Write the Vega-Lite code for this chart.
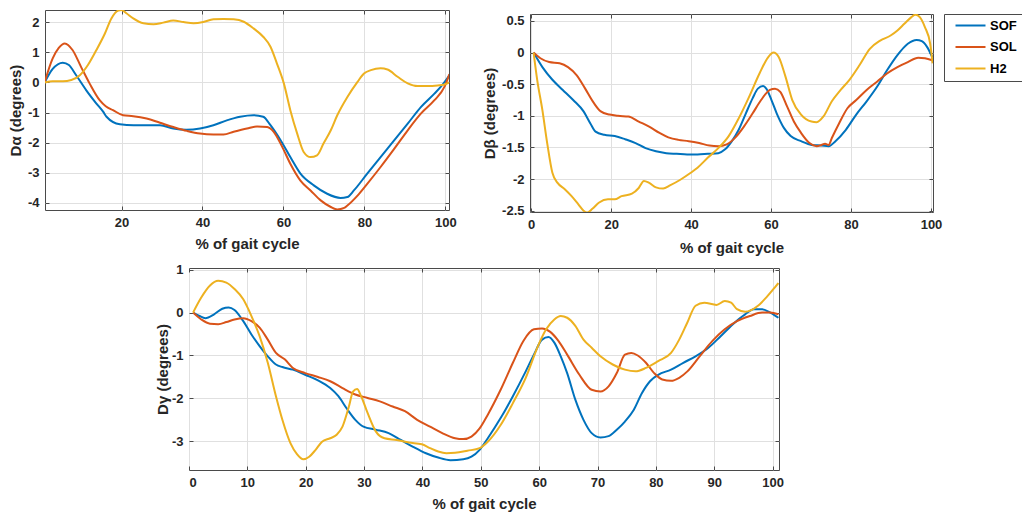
{
"$schema":"https://vega.github.io/schema/vega-lite/v6.json",
"autosize":{"type":"none"},
"padding":{"left":45,"top":10,"right":977,"bottom":507},
"background":"white",
"config":{
 "font":"Liberation Sans",
 "view":{"stroke":"#4a4a4a","strokeWidth":1},
 "axis":{"domain":false,"grid":true,"gridColor":"#e0e0e0","gridWidth":1,"tickColor":"#4a4a4a","tickSize":-4,"labelFont":"Liberation Sans","labelFontWeight":"bold","labelFontSize":13,"labelColor":"#262626","labelPadding":10,"titleFont":"Liberation Sans","titleFontWeight":"bold","titleFontSize":15,"titleColor":"#262626"},
 "line":{"strokeWidth":2,"interpolate":"monotone"}
},
"datasets":{
"p1":[
{"s":"SOF","x":1,"y":0},{"s":"SOF","x":3,"y":0.45},{"s":"SOF","x":5.5,"y":0.66},{"s":"SOF","x":7,"y":0.58},{"s":"SOF","x":8.8,"y":0.24},{"s":"SOF","x":11.3,"y":-0.26},{"s":"SOF","x":13.8,"y":-0.7},{"s":"SOF","x":15.5,"y":-0.98},{"s":"SOF","x":16.3,"y":-1.14},{"s":"SOF","x":19.6,"y":-1.39},{"s":"SOF","x":23,"y":-1.42},{"s":"SOF","x":26.2,"y":-1.42},{"s":"SOF","x":29.5,"y":-1.42},{"s":"SOF","x":32.8,"y":-1.53},{"s":"SOF","x":36,"y":-1.57},{"s":"SOF","x":39.4,"y":-1.53},{"s":"SOF","x":42.7,"y":-1.42},{"s":"SOF","x":46,"y":-1.26},{"s":"SOF","x":49.3,"y":-1.14},{"s":"SOF","x":52.6,"y":-1.09},{"s":"SOF","x":55,"y":-1.14},{"s":"SOF","x":56.8,"y":-1.42},{"s":"SOF","x":59.3,"y":-1.92},{"s":"SOF","x":61.7,"y":-2.48},{"s":"SOF","x":64.2,"y":-3.03},{"s":"SOF","x":67.5,"y":-3.42},{"s":"SOF","x":70.8,"y":-3.7},{"s":"SOF","x":74.1,"y":-3.84},{"s":"SOF","x":75.8,"y":-3.81},{"s":"SOF","x":77.4,"y":-3.59},{"s":"SOF","x":80.7,"y":-3.03},{"s":"SOF","x":84,"y":-2.48},{"s":"SOF","x":87.4,"y":-1.92},{"s":"SOF","x":90.7,"y":-1.37},{"s":"SOF","x":94,"y":-0.81},{"s":"SOF","x":97.3,"y":-0.37},{"s":"SOF","x":98.9,"y":-0.14},{"s":"SOF","x":101,"y":0.24},
{"s":"SOL","x":1,"y":0},{"s":"SOL","x":3,"y":0.8},{"s":"SOL","x":4.5,"y":1.15},{"s":"SOL","x":6,"y":1.3},{"s":"SOL","x":7.9,"y":1.08},{"s":"SOL","x":10,"y":0.52},{"s":"SOL","x":12.1,"y":-0.03},{"s":"SOL","x":14.6,"y":-0.59},{"s":"SOL","x":16.1,"y":-0.79},{"s":"SOL","x":17.9,"y":-0.92},{"s":"SOL","x":20.4,"y":-1.09},{"s":"SOL","x":22.9,"y":-1.12},{"s":"SOL","x":26.2,"y":-1.2},{"s":"SOL","x":29.5,"y":-1.34},{"s":"SOL","x":32.8,"y":-1.48},{"s":"SOL","x":36.2,"y":-1.61},{"s":"SOL","x":39.4,"y":-1.7},{"s":"SOL","x":42.7,"y":-1.73},{"s":"SOL","x":45.2,"y":-1.73},{"s":"SOL","x":47.7,"y":-1.64},{"s":"SOL","x":51,"y":-1.53},{"s":"SOL","x":53.5,"y":-1.46},{"s":"SOL","x":56,"y":-1.48},{"s":"SOL","x":57.6,"y":-1.64},{"s":"SOL","x":59.7,"y":-2.14},{"s":"SOL","x":61.7,"y":-2.7},{"s":"SOL","x":64.2,"y":-3.26},{"s":"SOL","x":66.7,"y":-3.59},{"s":"SOL","x":69.2,"y":-3.92},{"s":"SOL","x":71.7,"y":-4.14},{"s":"SOL","x":73.3,"y":-4.22},{"s":"SOL","x":75,"y":-4.17},{"s":"SOL","x":75.8,"y":-4.09},{"s":"SOL","x":78.3,"y":-3.76},{"s":"SOL","x":80.7,"y":-3.37},{"s":"SOL","x":84,"y":-2.81},{"s":"SOL","x":87.4,"y":-2.2},{"s":"SOL","x":90.7,"y":-1.59},{"s":"SOL","x":94,"y":-1.03},{"s":"SOL","x":97.3,"y":-0.59},{"s":"SOL","x":99.8,"y":-0.14},{"s":"SOL","x":101,"y":0.28},
{"s":"H2","x":1,"y":0},{"s":"H2","x":3,"y":0.04},{"s":"H2","x":5.5,"y":0.04},{"s":"H2","x":7.6,"y":0.08},{"s":"H2","x":9.7,"y":0.24},{"s":"H2","x":11.7,"y":0.58},{"s":"H2","x":13.8,"y":1.08},{"s":"H2","x":15.9,"y":1.63},{"s":"H2","x":17.5,"y":2.13},{"s":"H2","x":19.2,"y":2.39},{"s":"H2","x":20,"y":2.41},{"s":"H2","x":21.2,"y":2.3},{"s":"H2","x":22.9,"y":2.13},{"s":"H2","x":25.4,"y":1.97},{"s":"H2","x":27.9,"y":1.94},{"s":"H2","x":30.3,"y":1.99},{"s":"H2","x":32.8,"y":2.06},{"s":"H2","x":35.3,"y":2.01},{"s":"H2","x":37.8,"y":1.97},{"s":"H2","x":40.2,"y":2.01},{"s":"H2","x":42.7,"y":2.1},{"s":"H2","x":45.2,"y":2.11},{"s":"H2","x":47.7,"y":2.1},{"s":"H2","x":50.2,"y":2.02},{"s":"H2","x":52.6,"y":1.8},{"s":"H2","x":55,"y":1.52},{"s":"H2","x":56.8,"y":1.19},{"s":"H2","x":58.4,"y":0.63},{"s":"H2","x":60.1,"y":-0.03},{"s":"H2","x":61.7,"y":-0.92},{"s":"H2","x":63.4,"y":-1.7},{"s":"H2","x":65,"y":-2.31},{"s":"H2","x":66.7,"y":-2.48},{"s":"H2","x":68.3,"y":-2.42},{"s":"H2","x":69.9,"y":-2.03},{"s":"H2","x":71.7,"y":-1.59},{"s":"H2","x":73.3,"y":-1.09},{"s":"H2","x":75.8,"y":-0.48},{"s":"H2","x":78.3,"y":0.02},{"s":"H2","x":79.9,"y":0.3},{"s":"H2","x":81.6,"y":0.41},{"s":"H2","x":84,"y":0.47},{"s":"H2","x":85.7,"y":0.43},{"s":"H2","x":88.2,"y":0.19},{"s":"H2","x":90.7,"y":-0.03},{"s":"H2","x":93.1,"y":-0.12},{"s":"H2","x":95.6,"y":-0.12},{"s":"H2","x":98.1,"y":-0.1},{"s":"H2","x":99.8,"y":-0.07},{"s":"H2","x":101,"y":0}
],
"p2":[
{"s":"SOF","x":0.6,"y":0},{"s":"SOF","x":2.8,"y":-0.23},{"s":"SOF","x":5.3,"y":-0.43},{"s":"SOF","x":7.9,"y":-0.59},{"s":"SOF","x":10.5,"y":-0.75},{"s":"SOF","x":13.1,"y":-0.93},{"s":"SOF","x":14.8,"y":-1.12},{"s":"SOF","x":16.1,"y":-1.25},{"s":"SOF","x":18.3,"y":-1.3},{"s":"SOF","x":20.9,"y":-1.32},{"s":"SOF","x":23.5,"y":-1.37},{"s":"SOF","x":26.1,"y":-1.43},{"s":"SOF","x":28.6,"y":-1.51},{"s":"SOF","x":31.2,"y":-1.56},{"s":"SOF","x":33.8,"y":-1.59},{"s":"SOF","x":36.4,"y":-1.6},{"s":"SOF","x":39,"y":-1.61},{"s":"SOF","x":41.6,"y":-1.61},{"s":"SOF","x":44.2,"y":-1.6},{"s":"SOF","x":46.8,"y":-1.59},{"s":"SOF","x":48.5,"y":-1.53},{"s":"SOF","x":50.2,"y":-1.4},{"s":"SOF","x":51.9,"y":-1.22},{"s":"SOF","x":53.7,"y":-0.96},{"s":"SOF","x":55.4,"y":-0.72},{"s":"SOF","x":56.7,"y":-0.57},{"s":"SOF","x":58,"y":-0.53},{"s":"SOF","x":58.8,"y":-0.57},{"s":"SOF","x":60.1,"y":-0.75},{"s":"SOF","x":61.4,"y":-0.96},{"s":"SOF","x":63.2,"y":-1.19},{"s":"SOF","x":64.9,"y":-1.32},{"s":"SOF","x":67.5,"y":-1.4},{"s":"SOF","x":70.1,"y":-1.46},{"s":"SOF","x":72.6,"y":-1.47},{"s":"SOF","x":74.4,"y":-1.48},{"s":"SOF","x":76.1,"y":-1.4},{"s":"SOF","x":78.7,"y":-1.22},{"s":"SOF","x":81.3,"y":-0.98},{"s":"SOF","x":83.9,"y":-0.77},{"s":"SOF","x":86.5,"y":-0.54},{"s":"SOF","x":89,"y":-0.28},{"s":"SOF","x":91.6,"y":-0.04},{"s":"SOF","x":94.2,"y":0.14},{"s":"SOF","x":96.4,"y":0.2},{"s":"SOF","x":97.7,"y":0.18},{"s":"SOF","x":99,"y":0.09},{"s":"SOF","x":100.3,"y":-0.07},
{"s":"SOL","x":0.6,"y":0},{"s":"SOL","x":2.3,"y":-0.09},{"s":"SOL","x":4.5,"y":-0.15},{"s":"SOL","x":7.1,"y":-0.17},{"s":"SOL","x":9.2,"y":-0.23},{"s":"SOL","x":11.4,"y":-0.36},{"s":"SOL","x":13.5,"y":-0.57},{"s":"SOL","x":15.7,"y":-0.8},{"s":"SOL","x":17.4,"y":-0.93},{"s":"SOL","x":19.6,"y":-0.98},{"s":"SOL","x":21.7,"y":-1.0},{"s":"SOL","x":24.3,"y":-1.01},{"s":"SOL","x":26.9,"y":-1.09},{"s":"SOL","x":29.5,"y":-1.17},{"s":"SOL","x":32.1,"y":-1.27},{"s":"SOL","x":34.3,"y":-1.34},{"s":"SOL","x":36.8,"y":-1.38},{"s":"SOL","x":39.4,"y":-1.4},{"s":"SOL","x":42,"y":-1.43},{"s":"SOL","x":44.6,"y":-1.47},{"s":"SOL","x":46.8,"y":-1.48},{"s":"SOL","x":48.9,"y":-1.45},{"s":"SOL","x":51.1,"y":-1.34},{"s":"SOL","x":53.2,"y":-1.17},{"s":"SOL","x":55.4,"y":-0.96},{"s":"SOL","x":57.5,"y":-0.75},{"s":"SOL","x":59.7,"y":-0.59},{"s":"SOL","x":61,"y":-0.57},{"s":"SOL","x":62.3,"y":-0.62},{"s":"SOL","x":64,"y":-0.85},{"s":"SOL","x":65.7,"y":-1.09},{"s":"SOL","x":67.5,"y":-1.27},{"s":"SOL","x":69.6,"y":-1.43},{"s":"SOL","x":71.4,"y":-1.48},{"s":"SOL","x":72.6,"y":-1.46},{"s":"SOL","x":73.5,"y":-1.44},{"s":"SOL","x":74.4,"y":-1.46},{"s":"SOL","x":75.2,"y":-1.35},{"s":"SOL","x":77,"y":-1.12},{"s":"SOL","x":79.1,"y":-0.88},{"s":"SOL","x":81.3,"y":-0.75},{"s":"SOL","x":83.9,"y":-0.59},{"s":"SOL","x":86.5,"y":-0.46},{"s":"SOL","x":89,"y":-0.33},{"s":"SOL","x":91.6,"y":-0.23},{"s":"SOL","x":94.2,"y":-0.15},{"s":"SOL","x":96.8,"y":-0.08},{"s":"SOL","x":98.5,"y":-0.09},{"s":"SOL","x":100.3,"y":-0.12},
{"s":"H2","x":0.6,"y":0},{"s":"H2","x":1.5,"y":-0.43},{"s":"H2","x":2.8,"y":-0.91},{"s":"H2","x":4,"y":-1.43},{"s":"H2","x":5.3,"y":-1.9},{"s":"H2","x":6.6,"y":-2.06},{"s":"H2","x":8.4,"y":-2.16},{"s":"H2","x":10.1,"y":-2.27},{"s":"H2","x":11.8,"y":-2.4},{"s":"H2","x":13.1,"y":-2.5},{"s":"H2","x":14,"y":-2.53},{"s":"H2","x":15.3,"y":-2.47},{"s":"H2","x":17,"y":-2.37},{"s":"H2","x":19.2,"y":-2.32},{"s":"H2","x":20.9,"y":-2.32},{"s":"H2","x":22.6,"y":-2.27},{"s":"H2","x":25.2,"y":-2.23},{"s":"H2","x":26.9,"y":-2.14},{"s":"H2","x":28.2,"y":-2.03},{"s":"H2","x":29.5,"y":-2.06},{"s":"H2","x":31.2,"y":-2.13},{"s":"H2","x":33,"y":-2.15},{"s":"H2","x":34.7,"y":-2.1},{"s":"H2","x":37.3,"y":-2.01},{"s":"H2","x":39.9,"y":-1.9},{"s":"H2","x":41.6,"y":-1.82},{"s":"H2","x":44.2,"y":-1.66},{"s":"H2","x":46.8,"y":-1.51},{"s":"H2","x":49.4,"y":-1.32},{"s":"H2","x":51.9,"y":-1.04},{"s":"H2","x":54.5,"y":-0.7},{"s":"H2","x":57.1,"y":-0.33},{"s":"H2","x":59.3,"y":-0.07},{"s":"H2","x":60.6,"y":0},{"s":"H2","x":61.9,"y":-0.07},{"s":"H2","x":63.6,"y":-0.38},{"s":"H2","x":65.3,"y":-0.75},{"s":"H2","x":67.5,"y":-0.98},{"s":"H2","x":70.1,"y":-1.09},{"s":"H2","x":71.4,"y":-1.1},{"s":"H2","x":73.1,"y":-1.01},{"s":"H2","x":75.2,"y":-0.77},{"s":"H2","x":77.4,"y":-0.59},{"s":"H2","x":79.6,"y":-0.43},{"s":"H2","x":82.1,"y":-0.2},{"s":"H2","x":84.7,"y":0.06},{"s":"H2","x":87.3,"y":0.19},{"s":"H2","x":89.9,"y":0.27},{"s":"H2","x":91.6,"y":0.35},{"s":"H2","x":93.4,"y":0.46},{"s":"H2","x":95.1,"y":0.56},{"s":"H2","x":96.1,"y":0.6},{"s":"H2","x":97.2,"y":0.56},{"s":"H2","x":98.5,"y":0.4},{"s":"H2","x":99.8,"y":0.14},{"s":"H2","x":100.4,"y":-0.17}
],
"p3":[
{"s":"SOF","x":0.7,"y":0},{"s":"SOF","x":1.8,"y":-0.08},{"s":"SOF","x":2.8,"y":-0.13},{"s":"SOF","x":4.3,"y":-0.04},{"s":"SOF","x":5.7,"y":0.09},{"s":"SOF","x":6.8,"y":0.12},{"s":"SOF","x":7.8,"y":0.06},{"s":"SOF","x":9.3,"y":-0.2},{"s":"SOF","x":10.7,"y":-0.51},{"s":"SOF","x":12.1,"y":-0.78},{"s":"SOF","x":13.5,"y":-1.02},{"s":"SOF","x":14.9,"y":-1.21},{"s":"SOF","x":16,"y":-1.27},{"s":"SOF","x":17.8,"y":-1.33},{"s":"SOF","x":19.9,"y":-1.45},{"s":"SOF","x":22.1,"y":-1.58},{"s":"SOF","x":24.2,"y":-1.76},{"s":"SOF","x":25.6,"y":-1.95},{"s":"SOF","x":27,"y":-2.23},{"s":"SOF","x":28.5,"y":-2.5},{"s":"SOF","x":29.9,"y":-2.66},{"s":"SOF","x":32,"y":-2.73},{"s":"SOF","x":34.2,"y":-2.81},{"s":"SOF","x":36.3,"y":-2.97},{"s":"SOF","x":38.4,"y":-3.13},{"s":"SOF","x":40.6,"y":-3.28},{"s":"SOF","x":42.7,"y":-3.38},{"s":"SOF","x":44.8,"y":-3.44},{"s":"SOF","x":47,"y":-3.42},{"s":"SOF","x":48.4,"y":-3.36},{"s":"SOF","x":49.8,"y":-3.2},{"s":"SOF","x":51.2,"y":-2.93},{"s":"SOF","x":53.4,"y":-2.46},{"s":"SOF","x":55.5,"y":-1.95},{"s":"SOF","x":57.7,"y":-1.37},{"s":"SOF","x":59.1,"y":-0.98},{"s":"SOF","x":60.5,"y":-0.63},{"s":"SOF","x":61.6,"y":-0.57},{"s":"SOF","x":62.6,"y":-0.7},{"s":"SOF","x":63.7,"y":-1.02},{"s":"SOF","x":64.8,"y":-1.41},{"s":"SOF","x":66.2,"y":-2.03},{"s":"SOF","x":67.6,"y":-2.5},{"s":"SOF","x":69,"y":-2.81},{"s":"SOF","x":70.5,"y":-2.91},{"s":"SOF","x":71.9,"y":-2.88},{"s":"SOF","x":73.3,"y":-2.73},{"s":"SOF","x":74.7,"y":-2.54},{"s":"SOF","x":76.2,"y":-2.27},{"s":"SOF","x":77.6,"y":-1.88},{"s":"SOF","x":79,"y":-1.6},{"s":"SOF","x":80.4,"y":-1.45},{"s":"SOF","x":82.6,"y":-1.33},{"s":"SOF","x":84.7,"y":-1.17},{"s":"SOF","x":86.8,"y":-1.02},{"s":"SOF","x":89,"y":-0.82},{"s":"SOF","x":91.1,"y":-0.55},{"s":"SOF","x":93.2,"y":-0.27},{"s":"SOF","x":95.3,"y":-0.04},{"s":"SOF","x":96.8,"y":0.08},{"s":"SOF","x":98.2,"y":0.08},{"s":"SOF","x":99.6,"y":0},{"s":"SOF","x":101,"y":-0.12},
{"s":"SOL","x":0.7,"y":0},{"s":"SOL","x":2.1,"y":-0.16},{"s":"SOL","x":3.6,"y":-0.26},{"s":"SOL","x":5,"y":-0.27},{"s":"SOL","x":6.4,"y":-0.22},{"s":"SOL","x":7.8,"y":-0.16},{"s":"SOL","x":9.3,"y":-0.13},{"s":"SOL","x":10.7,"y":-0.2},{"s":"SOL","x":12.1,"y":-0.35},{"s":"SOL","x":13.5,"y":-0.63},{"s":"SOL","x":14.9,"y":-0.94},{"s":"SOL","x":16.4,"y":-1.09},{"s":"SOL","x":17.8,"y":-1.29},{"s":"SOL","x":19.9,"y":-1.41},{"s":"SOL","x":22.1,"y":-1.5},{"s":"SOL","x":24.2,"y":-1.6},{"s":"SOL","x":26.3,"y":-1.76},{"s":"SOL","x":28.5,"y":-1.91},{"s":"SOL","x":30.6,"y":-1.99},{"s":"SOL","x":32.7,"y":-2.07},{"s":"SOL","x":34.9,"y":-2.19},{"s":"SOL","x":37,"y":-2.3},{"s":"SOL","x":39.1,"y":-2.5},{"s":"SOL","x":41.3,"y":-2.66},{"s":"SOL","x":43.4,"y":-2.81},{"s":"SOL","x":45.6,"y":-2.93},{"s":"SOL","x":47,"y":-2.95},{"s":"SOL","x":48.4,"y":-2.89},{"s":"SOL","x":49.8,"y":-2.7},{"s":"SOL","x":51.2,"y":-2.38},{"s":"SOL","x":53.4,"y":-1.8},{"s":"SOL","x":55.5,"y":-1.17},{"s":"SOL","x":57.3,"y":-0.66},{"s":"SOL","x":59.1,"y":-0.39},{"s":"SOL","x":60.5,"y":-0.37},{"s":"SOL","x":61.9,"y":-0.45},{"s":"SOL","x":63.3,"y":-0.66},{"s":"SOL","x":64.8,"y":-0.98},{"s":"SOL","x":66.9,"y":-1.45},{"s":"SOL","x":69,"y":-1.8},{"s":"SOL","x":70.5,"y":-1.84},{"s":"SOL","x":71.9,"y":-1.72},{"s":"SOL","x":73.3,"y":-1.41},{"s":"SOL","x":74.7,"y":-0.98},{"s":"SOL","x":75.8,"y":-0.94},{"s":"SOL","x":76.9,"y":-1.0},{"s":"SOL","x":78.3,"y":-1.17},{"s":"SOL","x":79.7,"y":-1.41},{"s":"SOL","x":81.1,"y":-1.56},{"s":"SOL","x":82.6,"y":-1.59},{"s":"SOL","x":84,"y":-1.52},{"s":"SOL","x":85.4,"y":-1.37},{"s":"SOL","x":87.5,"y":-1.02},{"s":"SOL","x":89.7,"y":-0.66},{"s":"SOL","x":91.8,"y":-0.39},{"s":"SOL","x":93.9,"y":-0.2},{"s":"SOL","x":96.1,"y":-0.08},{"s":"SOL","x":98.2,"y":0},{"s":"SOL","x":99.6,"y":0},{"s":"SOL","x":101,"y":-0.04},
{"s":"H2","x":0.7,"y":0},{"s":"H2","x":2.1,"y":0.35},{"s":"H2","x":3.6,"y":0.63},{"s":"H2","x":5,"y":0.74},{"s":"H2","x":6.4,"y":0.7},{"s":"H2","x":7.8,"y":0.55},{"s":"H2","x":9.3,"y":0.31},{"s":"H2","x":10.7,"y":-0.08},{"s":"H2","x":12.1,"y":-0.55},{"s":"H2","x":13.5,"y":-1.17},{"s":"H2","x":14.9,"y":-1.95},{"s":"H2","x":16,"y":-2.5},{"s":"H2","x":17.4,"y":-3.05},{"s":"H2","x":18.5,"y":-3.3},{"s":"H2","x":19.6,"y":-3.42},{"s":"H2","x":20.6,"y":-3.36},{"s":"H2","x":21.7,"y":-3.2},{"s":"H2","x":22.8,"y":-3.01},{"s":"H2","x":24.2,"y":-2.93},{"s":"H2","x":25.3,"y":-2.85},{"s":"H2","x":26.3,"y":-2.66},{"s":"H2","x":27.4,"y":-2.19},{"s":"H2","x":28.1,"y":-1.84},{"s":"H2","x":28.8,"y":-1.78},{"s":"H2","x":29.5,"y":-1.95},{"s":"H2","x":30.6,"y":-2.34},{"s":"H2","x":32,"y":-2.77},{"s":"H2","x":33.5,"y":-2.93},{"s":"H2","x":35.6,"y":-2.97},{"s":"H2","x":37.7,"y":-3.03},{"s":"H2","x":39.9,"y":-3.07},{"s":"H2","x":41.3,"y":-3.16},{"s":"H2","x":42.7,"y":-3.24},{"s":"H2","x":44.1,"y":-3.28},{"s":"H2","x":45.6,"y":-3.27},{"s":"H2","x":47.7,"y":-3.22},{"s":"H2","x":49.8,"y":-3.16},{"s":"H2","x":51.2,"y":-3.01},{"s":"H2","x":53.4,"y":-2.62},{"s":"H2","x":55.5,"y":-2.11},{"s":"H2","x":57.7,"y":-1.52},{"s":"H2","x":59.8,"y":-0.78},{"s":"H2","x":61.2,"y":-0.39},{"s":"H2","x":62.6,"y":-0.16},{"s":"H2","x":63.7,"y":-0.08},{"s":"H2","x":64.8,"y":-0.12},{"s":"H2","x":66.2,"y":-0.31},{"s":"H2","x":67.6,"y":-0.63},{"s":"H2","x":69,"y":-0.82},{"s":"H2","x":70.5,"y":-1.02},{"s":"H2","x":72.6,"y":-1.21},{"s":"H2","x":74.7,"y":-1.33},{"s":"H2","x":76.5,"y":-1.37},{"s":"H2","x":78.3,"y":-1.29},{"s":"H2","x":80.4,"y":-1.13},{"s":"H2","x":82.6,"y":-0.94},{"s":"H2","x":84,"y":-0.63},{"s":"H2","x":85.4,"y":-0.23},{"s":"H2","x":86.8,"y":0.16},{"s":"H2","x":88.3,"y":0.23},{"s":"H2","x":90.4,"y":0.18},{"s":"H2","x":91.8,"y":0.27},{"s":"H2","x":92.9,"y":0.23},{"s":"H2","x":93.9,"y":0.08},{"s":"H2","x":95.3,"y":0.02},{"s":"H2","x":97.5,"y":0.16},{"s":"H2","x":98.9,"y":0.35},{"s":"H2","x":100.4,"y":0.59},{"s":"H2","x":101,"y":0.69}
],
"sp":[{"k":0}]
},
"bounds":"flush",
"spacing":258,
"resolve":{"legend":{"color":"independent"}},
"vconcat":[
 {"bounds":"flush","spacing":81,"resolve":{"legend":{"color":"independent"}},"hconcat":[
  {"width":404,"height":200,"data":{"name":"p1"},
   "resolve":{"axis":{"x":"independent","y":"independent"}},
   "layer":[
    {"mark":{"type":"line","clip":true},
     "encoding":{
      "x":{"field":"x","type":"quantitative","scale":{"domain":[1.1,100.9],"nice":false,"zero":false},
           "axis":{"values":[20,40,60,80,100],"title":"% of gait cycle","titleY":33,"titleBaseline":"middle","labelExpr":"toString(datum.value)"}},
      "y":{"field":"y","type":"quantitative","scale":{"domain":[-4.24,2.41],"nice":false,"zero":false},
           "axis":{"values":[-4,-3,-2,-1,0,1,2],"title":"Dα (degrees)","titleX":-30,"titleBaseline":"middle","labelExpr":"toString(datum.value)"}},
      "color":{"field":"s","type":"nominal","scale":{"domain":["SOF","SOL","H2"],"range":["#0072BD","#D95319","#EDB120"]},"legend":null}
     }},
    {"mark":{"type":"point","opacity":0},
     "encoding":{
      "x":{"field":"x","type":"quantitative","axis":{"orient":"top","values":[20,40,60,80,100],"labels":false,"title":null,"grid":false}},
      "y":{"field":"y","type":"quantitative","axis":{"orient":"right","values":[-4,-3,-2,-1,0,1,2],"labels":false,"title":null,"grid":false}}
     }}
   ]},
  {"bounds":"flush","spacing":3,"resolve":{"legend":{"color":"independent"}},"vconcat":[
   {"width":1,"height":1,"data":{"name":"sp"},"mark":{"type":"point","opacity":0},"view":{"stroke":null}},
   {"width":403,"height":198,"data":{"name":"p2"},
    "resolve":{"axis":{"x":"independent","y":"independent"}},
    "layer":[
     {"mark":{"type":"line","clip":true},
      "encoding":{
       "x":{"field":"x","type":"quantitative","scale":{"domain":[-0.3,100.5],"nice":false,"zero":false},
            "axis":{"values":[0,20,40,60,80,100],"title":"% of gait cycle","titleY":35,"titleBaseline":"middle","labelExpr":"toString(datum.value)"}},
       "y":{"field":"y","type":"quantitative","scale":{"domain":[-2.52,0.61],"nice":false,"zero":false},
            "axis":{"values":[-2.5,-2,-1.5,-1,-0.5,0,0.5],"title":"Dβ (degrees)","titleX":-41,"titleBaseline":"middle","labelExpr":"toString(datum.value)"}},
       "color":{"field":"s","type":"nominal","scale":{"domain":["SOF","SOL","H2"],"range":["#0072BD","#D95319","#EDB120"]},
         "legend":{"orient":"none","legendX":414,"legendY":0,"title":null,"symbolType":"M-3,0H3","symbolSize":100,"symbolStrokeWidth":2,"symbolOffset":15,"labelFont":"Liberation Sans","labelFontSize":13,"labelFontWeight":"bold","labelColor":"#000000","labelOffset":13,"padding":5,"rowPadding":7.5,"strokeColor":"#4a4a4a","fillColor":"white"}}
      }},
     {"mark":{"type":"point","opacity":0},
      "encoding":{
       "x":{"field":"x","type":"quantitative","axis":{"orient":"top","values":[0,20,40,60,80,100],"labels":false,"title":null,"grid":false}},
       "y":{"field":"y","type":"quantitative","axis":{"orient":"right","values":[-2.5,-2,-1.5,-1,-0.5,0,0.5],"labels":false,"title":null,"grid":false}}
      }}
    ]}
  ]}
 ]},
 {"bounds":"flush","spacing":143,"hconcat":[
  {"width":1,"height":1,"data":{"name":"sp"},"mark":{"type":"point","opacity":0},"view":{"stroke":null}},
  {"width":590,"height":202,"data":{"name":"p3"},
   "resolve":{"axis":{"x":"independent","y":"independent"}},
   "layer":[
    {"mark":{"type":"line","clip":true},
     "encoding":{
      "x":{"field":"x","type":"quantitative","scale":{"domain":[0,101.1],"nice":false,"zero":false},
           "axis":{"values":[0,10,20,30,40,50,60,70,80,90,100],"title":"% of gait cycle","titleY":33,"titleBaseline":"middle","labelExpr":"toString(datum.value)"}},
      "y":{"field":"y","type":"quantitative","scale":{"domain":[-3.67,1.04],"nice":false,"zero":false},
           "axis":{"values":[-3,-2,-1,0,1],"title":"Dγ (degrees)","titleX":-27,"titleBaseline":"middle","labelExpr":"toString(datum.value)"}},
      "color":{"field":"s","type":"nominal","scale":{"domain":["SOF","SOL","H2"],"range":["#0072BD","#D95319","#EDB120"]},"legend":null}
     }},
    {"mark":{"type":"point","opacity":0},
     "encoding":{
      "x":{"field":"x","type":"quantitative","axis":{"orient":"top","values":[0,10,20,30,40,50,60,70,80,90,100],"labels":false,"title":null,"grid":false}},
      "y":{"field":"y","type":"quantitative","axis":{"orient":"right","values":[-3,-2,-1,0,1],"labels":false,"title":null,"grid":false}}
     }}
   ]}
 ]}
]
}
